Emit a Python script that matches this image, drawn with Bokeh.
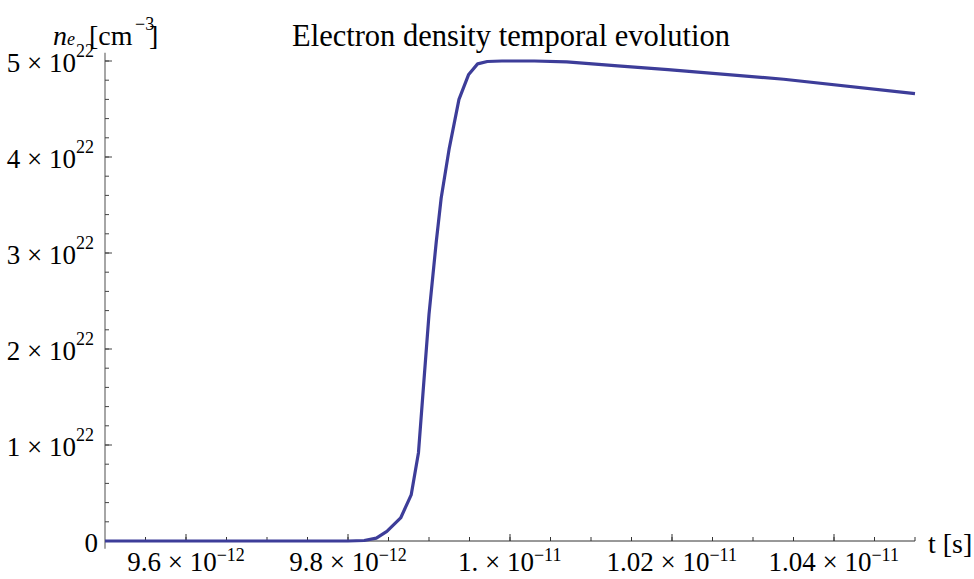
import numpy as np
from bokeh.plotting import figure
from bokeh.models import Range1d, Label, LabelSet, ColumnDataSource
from bokeh.embed import file_html
from bokeh.resources import INLINE

# ---------------- data ----------------
t_s = [9.5e-12, 9.80e-12, 9.82e-12, 9.835e-12, 9.848e-12, 9.865e-12, 9.878e-12,
       9.887e-12, 9.894e-12, 9.900e-12, 9.909e-12, 9.915e-12, 9.925e-12, 9.937e-12,
       9.949e-12, 9.960e-12, 9.972e-12, 9.99e-12, 1.003e-11, 1.007e-11, 1.0133e-11,
       1.0195e-11, 1.0338e-11, 1.05e-11]
n_e = [0.0, 0.0, 0.005e22, 0.03e22, 0.10e22, 0.24e22, 0.48e22,
       0.92e22, 1.70e22, 2.36e22, 3.12e22, 3.57e22, 4.09e22, 4.60e22,
       4.86e22, 4.97e22, 4.995e22, 5.0e22, 5.0e22, 4.99e22, 4.95e22,
       4.91e22, 4.81e22, 4.66e22]

x_ticks = [9.6e-12, 9.8e-12, 1.0e-11, 1.02e-11, 1.04e-11]
x_tick_mant = ["9.6", "9.8", "1.", "1.02", "1.04"]
x_tick_exp = ["\u221212", "\u221212", "\u221211", "\u221211", "\u221211"]
x_minor = [9.55e-12 + k * 0.05e-12 for k in range(20)]

y_ticks = [0.0, 1e22, 2e22, 3e22, 4e22, 5e22]
y_tick_mant = ["0", "1", "2", "3", "4", "5"]
y_tick_exp = ["", "22", "22", "22", "22", "22"]
y_minor = [k * 0.2e22 for k in range(1, 26)]

title_text = "Electron density temporal evolution"
x_label = "t [s]"

# axis extents (data units)
X0, X1 = 9.5e-12, 1.05e-11
Y0, Y1 = -0.08e22, 5.0867e22

# canvas mapping: x = X0 at 104.5 px, 162 px per 0.2e-12 ; y = 0 at 540.5 px, 96 px per 1e22
W, H = 974, 579
PX0, PY0 = 104.5, 540.5
SX = 0.2e-12 / 162.0
SY = 1e22 / 96.0
XR = (X0 - PX0 * SX, X0 + (W - PX0) * SX)
YR = (-(H - PY0) * SY, PY0 * SY)

FONT = "Liberation Serif"
BS, ES = 27, 18          # base / exponent font sizes (px)
LINE_COLOR = "#3d3d99"
XAX_COLOR = "#333333"
YAX_COLOR = "#6b6b6b"
TICK_COLOR = "#444444"
MAJ, MIN = 7, 4          # tick lengths (px)

# approximate Times advance widths (per 1000 em)
TW = {c: 500 for c in "0123456789"}
TW.update({".": 250, " ": 250, "\u00d7": 564, "\u2212": 564})


def tw(s, size):
    return sum(TW.get(c, 500) for c in s) * size / 1000.0


p = figure(width=W, height=H, x_range=Range1d(*XR), y_range=Range1d(*YR),
           output_backend="svg", toolbar_location=None,
           min_border_left=0, min_border_right=0, min_border_top=0, min_border_bottom=0)
p.xaxis.visible = False
p.yaxis.visible = False
p.outline_line_color = None
p.grid.visible = False
p.background_fill_color = "white"
p.border_fill_color = "white"

# ---- axes (Mathematica style: crossing at t = 9.5e-12, n = 0, ticks pointing inward) ----
p.segment(x0=[X0], y0=[Y0], x1=[X0], y1=[Y1], line_color=YAX_COLOR, line_width=1.2)
p.segment(x0=[X0], y0=[0.0], x1=[X1], y1=[0.0], line_color=XAX_COLOR, line_width=1)
p.segment(x0=x_ticks, y0=[0.0] * len(x_ticks), x1=x_ticks, y1=[MAJ * SY] * len(x_ticks),
          line_color=XAX_COLOR, line_width=1)
p.segment(x0=x_minor, y0=[0.0] * len(x_minor), x1=x_minor, y1=[MIN * SY] * len(x_minor),
          line_color=XAX_COLOR, line_width=1)
p.segment(x0=[X0] * len(y_ticks), y0=y_ticks, x1=[X0 + MAJ * SX] * len(y_ticks), y1=y_ticks,
          line_color=TICK_COLOR, line_width=1)
p.segment(x0=[X0] * len(y_minor), y0=y_minor, x1=[X0 + MIN * SX] * len(y_minor), y1=y_minor,
          line_color=TICK_COLOR, line_width=1)

# ---- data curve ----
p.line(t_s, n_e, line_color=LINE_COLOR, line_width=3.2)

# ---- x tick labels (mantissa x 10 + superscript exponent) ----
xb, xe, xbo, xeo = [], [], [], []
for m, e in zip(x_tick_mant, x_tick_exp):
    base = m + " \u00d7 10"
    bw, ew = tw(base, BS), tw(e, ES)
    tot = bw + ew
    xb.append(base)
    xe.append(e)
    xbo.append(-tot / 2)
    xeo.append(-tot / 2 + bw)
xsrc = ColumnDataSource(dict(x=x_ticks, y=[0.0] * len(x_ticks), base=xb, exp=xe, bo=xbo, eo=xeo))
p.add_layout(LabelSet(x="x", y="y", text="base", source=xsrc, x_offset="bo", y_offset=-30,
                      text_font=FONT, text_font_size=f"{BS}px", text_color="black",
                      text_align="left", text_baseline="alphabetic"))
p.add_layout(LabelSet(x="x", y="y", text="exp", source=xsrc, x_offset="eo", y_offset=-20,
                      text_font=FONT, text_font_size=f"{ES}px", text_color="black",
                      text_align="left", text_baseline="alphabetic"))

# ---- y tick labels ----
yb, ye, ybo = [], [], []
for m, e in zip(y_tick_mant, y_tick_exp):
    base = m if e == "" else m + " \u00d7 10"
    yb.append(base)
    ye.append(e)
    ybo.append(-11 - tw(e, ES) if e else -7)
ysrc = ColumnDataSource(dict(x=[X0] * len(y_ticks), y=y_ticks, base=yb, exp=ye, bo=ybo))
p.add_layout(LabelSet(x="x", y="y", text="base", source=ysrc, x_offset="bo", y_offset=-11,
                      text_font=FONT, text_font_size=f"{BS}px", text_color="black",
                      text_align="right", text_baseline="alphabetic"))
p.add_layout(LabelSet(x="x", y="y", text="exp", source=ysrc, x_offset=-11, y_offset=4,
                      text_font=FONT, text_font_size=f"{ES}px", text_color="black",
                      text_align="right", text_baseline="alphabetic"))

# ---- title ----
p.add_layout(Label(x=(X0 + X1) / 2, y=Y1, x_offset=1, y_offset=17, text=title_text,
                   text_font=FONT, text_font_size="30.5px", text_color="black",
                   text_align="center", text_baseline="alphabetic"))

# ---- x axis label ----
p.add_layout(Label(x=X1, y=0.0, x_offset=13, y_offset=-2, text=x_label,
                   text_font=FONT, text_font_size="28px", text_color="black",
                   text_align="left", text_baseline="alphabetic"))

# ---- y axis label: n_e [cm^-3] ----
ylab_parts = [
    ("n", -52, 17, "28px", "italic"),
    ("e", -38, 14, "18px", "italic"),
    ("[cm", -16, 17, "28px", "normal"),
    ("\u22123", 30, 29, "18px", "normal"),
    ("]", 44, 17, "28px", "normal"),
]
for txt, xo, yo, fs, st in ylab_parts:
    p.add_layout(Label(x=X0, y=Y1, x_offset=xo, y_offset=yo, text=txt,
                       text_font=FONT, text_font_size=fs, text_font_style=st,
                       text_color="black", text_align="left", text_baseline="alphabetic"))

open("out.html", "w").write(file_html(p, INLINE))
